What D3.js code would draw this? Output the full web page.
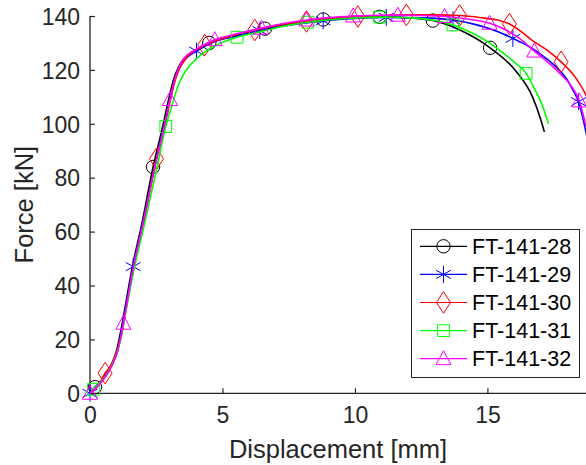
<!DOCTYPE html>
<html>
<head>
<meta charset="utf-8">
<script src="https://cdn.jsdelivr.net/npm/d3@7"></script>
<style>
body { margin: 0; background: #fff; }
svg { display: block; font-family: "Liberation Sans", Arial, sans-serif; }
</style>
</head>
<body>
<svg id="chart" width="586" height="465"></svg>
<script>
const names = ["FT-141-28", "FT-141-29", "FT-141-30", "FT-141-31", "FT-141-32"];
const colors = ["#000000", "#0000ff", "#ff0000", "#00ff00", "#ff00ff"];
const symbols = ["circle", "asterisk", "diamond", "square", "triangle"];

const xTicks = [0, 5, 10, 15];
const yTicks = [0, 20, 40, 60, 80, 100, 120, 140];

// FT-141-28
const disp28  = [0, 0.19, 0.35, 0.79, 1.02, 1.15, 1.28, 1.6, 1.97, 2.38, 2.72, 2.98, 3.17, 3.33, 3.48, 4.0, 4.5, 5.5, 6.6, 7.6, 8.8, 10.0, 10.93, 12.0, 12.94, 14.0, 15.1, 16.08, 16.7, 17.0, 17.15];
const force28 = [0, 2.3, 3.9, 10.2, 16.5, 22.5, 29.5, 47, 63.5, 84, 98, 109.5, 117, 120.8, 123.3, 127.4, 130, 132.8, 135.3, 137.2, 138.7, 139.4, 139.7, 139.3, 138.3, 134.6, 128.2, 119.5, 110, 102, 97];
const marks28 = [0.19, 2.38, 4.5, 6.6, 8.8, 10.93, 12.94, 15.1];

// FT-141-29
const disp29  = [0, 0.35, 0.79, 1.04, 1.17, 1.3, 1.63, 2.0, 2.45, 2.77, 3.02, 3.21, 3.36, 3.52, 4.02, 4.65, 5.5, 6.41, 7.3, 8.8, 10.0, 11.18, 12.5, 13.7, 14.6, 15.3, 15.96, 16.6, 17.21, 17.6, 17.97, 18.2, 18.44, 18.66, 18.8];
const force29 = [0, 3.7, 9.9, 16, 22, 29.5, 47, 63.5, 84.5, 98, 109, 116.5, 120.3, 123, 127, 130.3, 132.5, 134.6, 136.3, 138.2, 139.1, 139.5, 139.3, 138.5, 136.7, 134.5, 131.7, 128.5, 124.3, 121, 116.9, 113, 108.2, 99.6, 93];
const marks29 = [0, 1.63, 4.02, 6.41, 8.8, 11.18, 13.7, 15.96, 18.44];

// FT-141-30
const disp30  = [0, 0.3, 0.57, 0.8, 1.05, 1.2, 1.33, 1.66, 2.03, 2.51, 2.8, 3.05, 3.24, 3.39, 3.55, 4.33, 5.2, 6.22, 7.2, 8.17, 9.1, 10.11, 11.0, 11.94, 13.0, 13.95, 14.9, 15.4, 15.83, 16.3, 16.71, 17.3, 17.78, 18.3, 18.72, 18.9];
const force30 = [0, 2.8, 7.5, 10.5, 16.5, 22, 29.5, 47, 63.5, 87, 98, 109.5, 117, 120.8, 123.3, 129.2, 132.2, 134.8, 136.8, 138, 139.2, 139.8, 140.2, 140.4, 140.4, 140.2, 139.2, 138.5, 137, 134, 130.8, 127, 123, 117.5, 110.7, 107];
const marks30 = [0.57, 2.51, 4.33, 6.22, 8.17, 10.11, 11.94, 13.95, 15.83, 17.78];

// FT-141-31
const disp31  = [0, 0.13, 0.35, 0.8, 1.05, 1.2, 1.33, 1.66, 2.05, 2.5, 2.86, 3.1, 3.3, 3.6, 3.95, 4.6, 5.55, 6.5, 7.3, 8.23, 9.5, 10.93, 12.3, 13.0, 13.7, 14.5, 15.0, 15.5, 16.0, 16.46, 16.8, 17.05, 17.3];
const force31 = [0, 1.5, 3.5, 9.9, 16, 22, 29, 46, 62.5, 82.5, 99, 107, 113.5, 119.5, 123.5, 128.3, 132.1, 134.3, 136.2, 137.7, 139, 139.6, 139.2, 138.3, 136.7, 133.3, 130.5, 127, 123, 118.7, 112.5, 107.5, 100];
const marks31 = [0.13, 2.86, 5.55, 8.23, 10.93, 13.7, 16.46];

// FT-141-32
const disp32  = [0, 0.35, 0.79, 1.04, 1.26, 1.63, 2.0, 2.45, 2.77, 3.02, 3.21, 3.36, 3.52, 4.03, 4.71, 5.5, 6.47, 7.3, 8.17, 9.0, 9.93, 10.8, 11.62, 12.5, 13.38, 14.3, 15.08, 15.6, 16.2, 16.77, 17.3, 17.8, 18.2, 18.47, 18.7, 18.85];
const force32 = [0, 3.2, 9.5, 15.5, 26, 46.5, 63, 84, 97.5, 109, 117, 121, 123.8, 127.8, 131.2, 133.3, 135.5, 137.2, 138.5, 139.4, 140, 140.3, 140.3, 140.2, 139.8, 138.8, 137.3, 135.3, 131.8, 127, 122.7, 118, 113.5, 108.5, 100, 95];
const marks32 = [0, 1.26, 3.02, 4.71, 6.47, 8.17, 9.93, 11.62, 13.38, 15.08, 16.77, 18.47];

const allDisp = [disp28, disp29, disp30, disp31, disp32];
const allForce = [force28, force29, force30, force31, force32];
const allMarks = [marks28, marks29, marks30, marks31, marks32];

const svg = d3.select("#chart");
const axisColor = "#262626";

const x = d3.scaleLinear().domain([0, 18.72]).range([90, 586]);
const y = d3.scaleLinear().domain([0, 140]).range([393.3, 16]);

// marker shapes, centred on the data point
function markerPath(type) {
    if (type === "circle") return "M6.7,0A6.7,6.7 0 1,1 -6.7,0A6.7,6.7 0 1,1 6.7,0Z";
    if (type === "asterisk") return "M0,-8.5V8.5M-7.4,-4.2L7.4,4.2M-7.4,4.2L7.4,-4.2";
    if (type === "diamond") return "M0,-10.8L7,0L0,10.8L-7,0Z";
    if (type === "square") return "M-5.9,-5.9H5.9V5.9H-5.9Z";
    return "M0,-8L7.5,6H-7.5Z";
}

svg.append("defs").append("clipPath").attr("id", "plotclip")
    .append("rect").attr("x", 90).attr("y", 0).attr("width", 496).attr("height", 465);

// axes
const gx = svg.append("g").attr("transform", "translate(0,393.3)");
gx.call(d3.axisBottom(x).tickValues(xTicks).tickSize(-5).tickPadding(10).tickFormat(d3.format("d")));
const gy = svg.append("g").attr("transform", "translate(90,0)");
gy.call(d3.axisLeft(y).tickValues(yTicks).tickSize(-5).tickPadding(10).tickFormat(d3.format("d")));

[gx, gy].forEach(g => {
    g.select(".domain").attr("stroke", axisColor).attr("stroke-width", 1.3);
    g.selectAll(".tick line").attr("stroke", axisColor).attr("stroke-width", 1.2);
    g.selectAll(".tick text").attr("fill", axisColor)
        .style("font-size", "23px").style("font-family", "Liberation Sans, Arial, sans-serif");
});
gx.select(".domain").attr("d", "M90,0H586");
gy.select(".domain").attr("d", "M0,393.3V16");
gx.selectAll(".tick text").attr("dy", "0.85em");
gy.selectAll(".tick text").attr("dy", "0.36em").attr("x", -10);

// axis labels
svg.append("text")
    .attr("x", 338).attr("y", 458)
    .attr("text-anchor", "middle")
    .attr("fill", axisColor)
    .style("font-size", "25.5px")
    .text("Displacement [mm]");
svg.append("text")
    .attr("transform", "translate(33,204.6) rotate(-90)")
    .attr("text-anchor", "middle")
    .attr("fill", axisColor)
    .style("font-size", "25.5px")
    .text("Force [kN]");

// series: line first, then its markers
const line = d3.line().curve(d3.curveMonotoneX).x(d => x(d[0])).y(d => y(d[1]));

allDisp.forEach(function (disp, i) {
    const pts = disp.map((d, j) => [d, allForce[i][j]]);
    const g = svg.append("g").attr("class", "series");

    g.append("path")
        .datum(pts)
        .attr("clip-path", "url(#plotclip)")
        .attr("fill", "none")
        .attr("stroke", colors[i])
        .attr("stroke-width", 1.6)
        .attr("stroke-linejoin", "round")
        .attr("d", line);

    const markPts = pts.filter(p => allMarks[i].includes(p[0]) && p[0] <= 18.72);
    g.selectAll("path.marker")
        .data(markPts)
        .enter()
        .append("path")
        .attr("class", "marker")
        .attr("transform", d => `translate(${x(d[0])},${y(d[1])})`)
        .attr("d", markerPath(symbols[i]))
        .attr("fill", "none")
        .attr("stroke", colors[i])
        .attr("stroke-width", 1);
});

// legend
const legend = svg.append("g").attr("id", "legend");
legend.append("rect")
    .attr("x", 411.5).attr("y", 229.5).attr("width", 168).attr("height", 148)
    .attr("fill", "#fff").attr("stroke", axisColor).attr("stroke-width", 1);

names.forEach(function (name, i) {
    const ly = 246.3 + i * 28.1;
    legend.append("line")
        .attr("x1", 420).attr("x2", 467).attr("y1", ly).attr("y2", ly)
        .attr("stroke", colors[i]).attr("stroke-width", 1.2);
    legend.append("path")
        .attr("transform", `translate(443.5,${ly})`)
        .attr("d", markerPath(symbols[i]))
        .attr("fill", "none").attr("stroke", colors[i]).attr("stroke-width", 1);
    legend.append("text")
        .attr("x", 472).attr("y", ly).attr("dy", "0.36em")
        .attr("fill", "#000")
        .style("font-size", "21.5px")
        .text(name);
});
</script>
</body>
</html>
